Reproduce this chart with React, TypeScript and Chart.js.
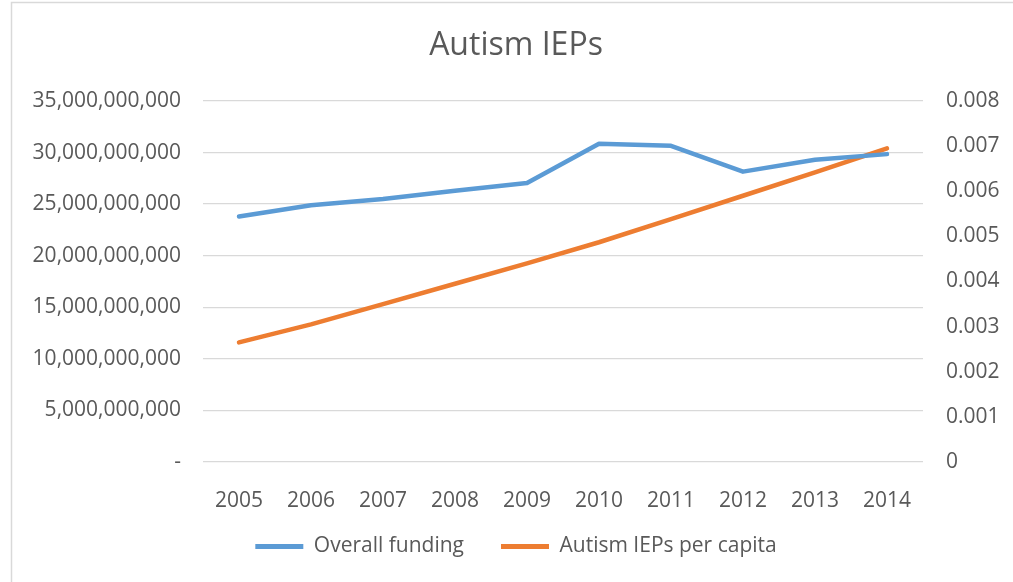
import React, { useEffect, useRef } from "react";
import { Chart, registerables } from "chart.js";

Chart.register(...registerables);

const chartTitle = "Autism IEPs";
const years = ["2005", "2006", "2007", "2008", "2009", "2010", "2011", "2012", "2013", "2014"];
const seriesNames = ["Overall funding", "Autism IEPs per capita"];
const overallFunding = [
  23.8e9, 24.9e9, 25.5e9, 26.3e9, 27.05e9, 30.85e9, 30.65e9, 28.15e9, 29.3e9, 29.85e9,
];
const iepsPerCapita = [
  0.00265, 0.00305, 0.0035, 0.00395, 0.0044, 0.00487, 0.00538, 0.0059, 0.00642, 0.00695,
];
const leftAxisMax = 35e9;
const leftAxisStep = 5e9;
const rightAxisMax = 0.008;
const rightAxisStep = 0.001;

const BLUE = "#5b9bd5";
const ORANGE = "#ed7d31";
const TEXT = "#595959";
const GRID = "#d9d9d9";
const FONT = "'Open Sans', 'DejaVu Sans', sans-serif";
const TICK_SIZE = 21;

const frame = {
  id: "frame",
  beforeDraw(chart: any) {
    const ctx = chart.ctx;
    ctx.save();
    ctx.fillStyle = "#ffffff";
    ctx.fillRect(0, 0, chart.width, chart.height);
    ctx.strokeStyle = GRID;
    ctx.lineWidth = 1.5;
    ctx.strokeRect(11.5, 2.5, chart.width + 20, chart.height + 20);
    ctx.restore();
  },
};

const legendShift = {
  id: "legendShift",
  afterLayout(chart: any) {
    const l = chart.legend;
    if (l) {
      l.top -= 15;
      l.bottom -= 15;
    }
  },
};

export default function App() {
  const ref = useRef<HTMLCanvasElement | null>(null);

  useEffect(() => {
    if (!ref.current) return;
    const chart = new Chart(ref.current, {
      type: "line",
      data: {
        labels: years,
        datasets: [
          {
            label: seriesNames[0],
            data: overallFunding,
            borderColor: BLUE,
            backgroundColor: BLUE,
            borderWidth: 4.5,
            pointRadius: 0,
            pointHoverRadius: 0,
            borderCapStyle: "round",
            borderJoinStyle: "round",
            tension: 0,
            yAxisID: "y",
          },
          {
            label: seriesNames[1],
            data: iepsPerCapita,
            borderColor: ORANGE,
            backgroundColor: ORANGE,
            borderWidth: 4.5,
            pointRadius: 0,
            pointHoverRadius: 0,
            borderCapStyle: "round",
            borderJoinStyle: "round",
            tension: 0,
            yAxisID: "y1",
          },
        ],
      },
      options: {
        responsive: false,
        animation: false,
        layout: { padding: { left: 19, right: 0, top: 0, bottom: 0 } },
        plugins: {
          title: {
            display: true,
            text: chartTitle,
            color: TEXT,
            font: { family: FONT, size: 32, weight: "normal" },
            padding: { top: 27, bottom: 35.6 },
          },
          legend: {
            position: "bottom",
            labels: {
              color: TEXT,
              font: { family: FONT, size: TICK_SIZE },
              boxWidth: 48,
              boxHeight: 5,
              padding: 37,
              generateLabels: (c: any) =>
                c.data.datasets.map((ds: any, i: number) => ({
                  text: ds.label,
                  fillStyle: ds.borderColor,
                  strokeStyle: ds.borderColor,
                  lineWidth: 0,
                  fontColor: TEXT,
                  hidden: false,
                  datasetIndex: i,
                })),
            },
          },
          tooltip: { enabled: false },
        },
        scales: {
          x: {
            offset: true,
            grid: { display: false, drawTicks: false },
            border: { display: false },
            ticks: {
              color: TEXT,
              font: { family: FONT, size: TICK_SIZE },
              padding: 26,
              maxRotation: 0,
            },
            afterFit: (s: any) => {
              s.height = 52;
            },
          },
          y: {
            position: "left",
            min: 0,
            max: leftAxisMax,
            grid: { color: GRID, lineWidth: 1.3, drawTicks: false },
            border: { display: false },
            ticks: {
              stepSize: leftAxisStep,
              color: TEXT,
              font: { family: FONT, size: TICK_SIZE },
              padding: 22,
              callback: (v: any) => (Number(v) === 0 ? "-" : Number(v).toLocaleString("en-US")),
            },
            afterFit: (s: any) => {
              s.width = 184;
            },
          },
          y1: {
            position: "right",
            min: 0,
            max: rightAxisMax,
            grid: { display: false, drawTicks: false },
            border: { display: false },
            ticks: {
              stepSize: rightAxisStep,
              color: TEXT,
              font: { family: FONT, size: TICK_SIZE },
              padding: 23,
              callback: (v: any) => (Number(v) === 0 ? "0" : Number(v).toFixed(3)),
            },
            afterFit: (s: any) => {
              s.width = 90;
            },
          },
        },
      },
      plugins: [frame, legendShift],
    });
    return () => chart.destroy();
  }, []);

  return (
    <div style={{ position: "fixed", left: 0, top: 0, width: 1013, height: 582, background: "#fff" }}>
      <canvas ref={ref} width={1013} height={582} style={{ width: 1013, height: 582, display: "block" }} />
    </div>
  );
}
